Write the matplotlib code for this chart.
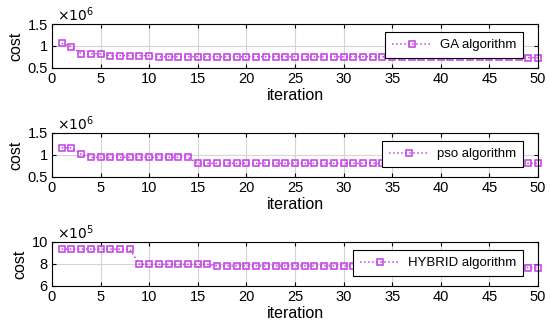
import numpy as np
import matplotlib
matplotlib.use("Agg")
import matplotlib.pyplot as plt
from matplotlib.ticker import FuncFormatter

plt.rcParams["font.family"] = ["Liberation Sans", "DejaVu Sans"]

iterations = np.arange(1, 51)

# cost values
ga_cost = [1.06e6, 0.985e6, 0.825e6, 0.825e6, 0.825e6] + [0.78e6] * 5 + [0.757e6] * 38 + [0.735e6] * 2
pso_cost = [1.165e6, 1.165e6, 1.02e6] + [0.945e6] * 11 + [0.81e6] * 36
hybrid_cost = [9.35e5] * 8 + [7.97e5] * 8 + [7.82e5] * 32 + [7.68e5] * 2

series = [
    (ga_cost, "GA algorithm", (0.5e6, 1.5e6), [0.5e6, 1e6, 1.5e6], 6),
    (pso_cost, "pso algorithm", (0.5e6, 1.5e6), [0.5e6, 1e6, 1.5e6], 6),
    (hybrid_cost, "HYBRID algorithm", (6e5, 10e5), [6e5, 8e5, 10e5], 5),
]

color = "#c23de6"
fig = plt.figure(figsize=(5.5, 3.32), dpi=100)
bottoms = [0.7952, 0.4669, 0.1386]

for (cost, name, ylim, yticks, exp), b in zip(series, bottoms):
    ax = fig.add_axes([0.0945, b, 0.8836, 0.1325])
    ax.plot(iterations, cost, ":s", color=color, markersize=5, markerfacecolor="none",
            markeredgewidth=1.1, linewidth=1.1, label=name, clip_on=False)
    ax.set_xlim(0, 50)
    ax.set_ylim(*ylim)
    ax.set_xticks(range(0, 51, 5))
    ax.set_yticks(yticks)
    scale = 10 ** exp
    ax.yaxis.set_major_formatter(FuncFormatter(lambda v, p, s=scale: "%g" % (v / s)))
    ax.text(0.01, 1.0, r"$\times10^{%d}$" % exp, transform=ax.transAxes, fontsize=10, va="bottom", ha="left")
    ax.grid(True, color="#d4d4d4", linewidth=0.8)
    ax.tick_params(direction="in", top=True, right=True, labelsize=10.5, length=3, pad=3)
    for sp in ax.spines.values():
        sp.set_linewidth(0.8)
    ax.set_xlabel("iteration", fontsize=11.5, labelpad=1)
    ax.set_ylabel("cost", fontsize=11.5, labelpad=3)
    leg = ax.legend(loc="center right", bbox_to_anchor=(0.97, 0.52), fontsize=9.5,
                    fancybox=False, framealpha=1, edgecolor="black", handlelength=3.0,
                    borderpad=0.55, handletextpad=0.6, borderaxespad=0.0)
    leg.get_frame().set_linewidth(0.8)

fig.savefig("out.png", dpi=100)
